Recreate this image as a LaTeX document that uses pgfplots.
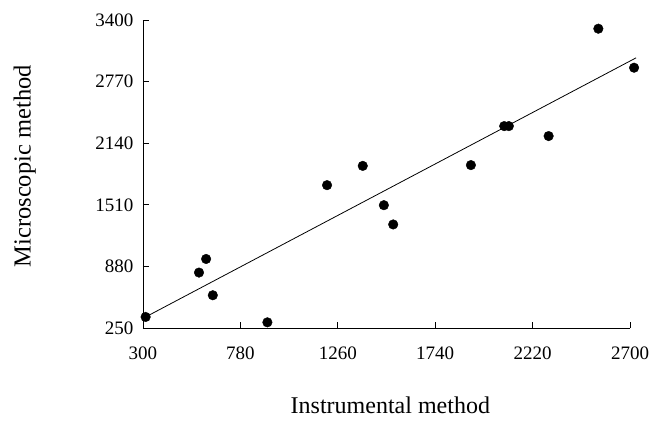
\documentclass[border=0pt]{standalone}
\usepackage{fontspec}
\setmainfont{Liberation Serif}
\usepackage{pgfplots}
\pgfplotsset{compat=1.18}
\begin{document}
\begin{tikzpicture}
\begin{axis}[
  scale only axis, width=487bp, height=308bp,
  xmin=300, xmax=2700, ymin=250, ymax=3400,
  xtick={300,780,1260,1740,2220,2700},
  ytick={250,880,1510,2140,2770,3400},
  axis x line*=bottom, axis y line*=left,
  axis line style={black, line width=0.8pt},
  tick align=inside, major tick length=6bp,
  tick style={black, line width=0.8pt},
  /pgf/number format/assume math mode=true,
  /pgf/number format/set thousands separator={},
  ticklabel style={font=\fontsize{19bp}{21bp}\selectfont},
  xticklabel style={yshift=-15bp},
  yticklabel style={xshift=-6bp},
  xlabel={Instrumental method}, ylabel={Microscopic method},
  every axis x label/.style={at={(axis description cs:0.508,-0.25)}, anchor=center,
    font=\fontsize{24bp}{26bp}\selectfont},
  every axis y label/.style={at={(axis description cs:-0.243,0.525)}, rotate=90, anchor=center,
    font=\fontsize{24.5bp}{26bp}\selectfont},
  clip=false,
]
\addplot[only marks, mark=*, mark size=4.8bp, black] coordinates {
(313,363) (576,817) (611,956) (644,585) (913,308)
(1207,1711) (1383,1908) (1487,1506) (1533,1309) (1916,1916)
(2080,2315) (2103,2315) (2299,2213) (2544,3311) (2720,2912)
};
\addplot[black, line width=0.8pt] coordinates {(313,363) (2730,3013)};
\end{axis}
\pgfresetboundingbox
\path[use as bounding box] (-143bp,-102bp) rectangle (525bp,328bp);
\end{tikzpicture}
\end{document}
